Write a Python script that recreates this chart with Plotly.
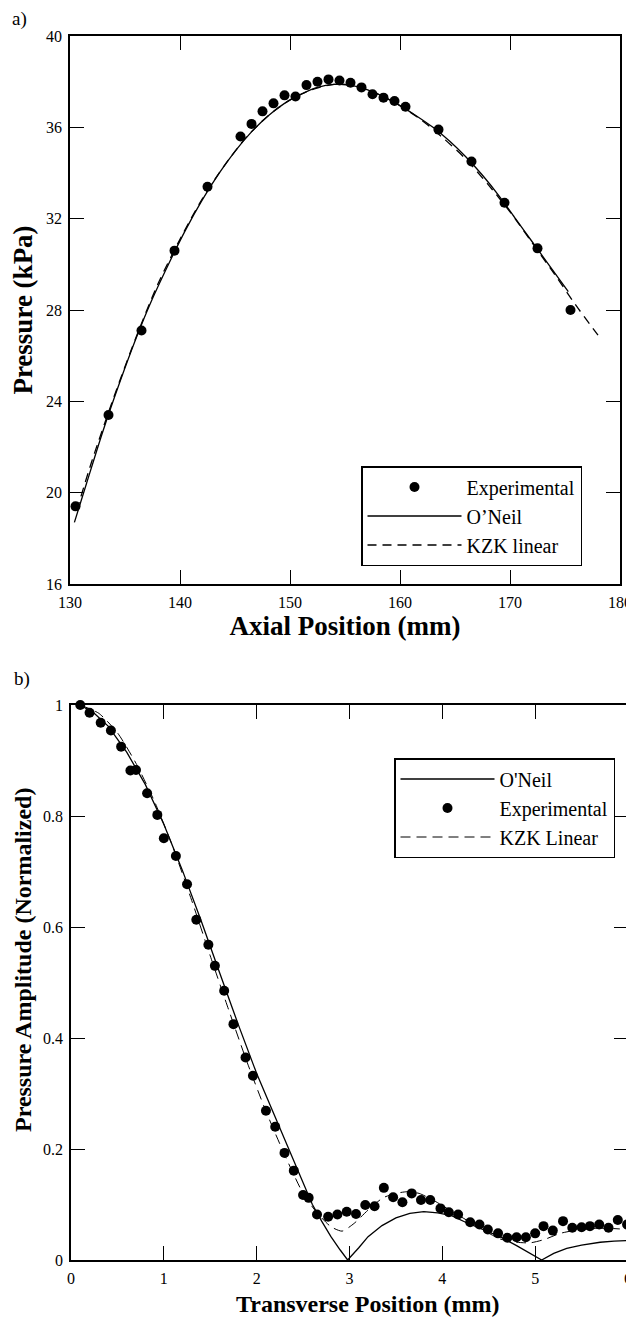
import plotly.graph_objects as go

# ---------------- Panel a) : axial profile ----------------
a_exp_x = [130.5, 133.5, 136.5, 139.5, 142.5, 145.5, 146.5, 147.5, 148.5, 149.5,
           150.5, 151.5, 152.5, 153.5, 154.5, 155.5, 156.5, 157.5, 158.5, 159.5,
           160.5, 163.5, 166.5, 169.5, 172.5, 175.5]
a_exp_y = [19.4, 23.4, 27.1, 30.6, 33.4, 35.6, 36.15, 36.7, 37.05, 37.4,
           37.35, 37.85, 38.0, 38.1, 38.05, 37.95, 37.75, 37.45, 37.3, 37.15,
           36.9, 35.9, 34.5, 32.7, 30.7, 28.0]

a_oneil_x = [130.4, 131.5, 133.0, 134.5, 136.0, 137.5, 139.0, 140.5, 142.0, 143.5,
             145.0, 146.5, 148.0, 149.5, 151.0, 152.5, 154.0, 155.5, 157.0, 158.5,
             160.0, 161.5, 163.0, 164.5, 166.0, 167.5, 169.0, 170.5, 172.0, 173.5, 175.3]
a_oneil_y = [18.7, 20.4, 22.7, 24.8, 26.75, 28.5, 30.05, 31.5, 32.8, 33.95,
             34.95, 35.8, 36.5, 37.05, 37.45, 37.75, 37.88, 37.85, 37.65, 37.35,
             36.95, 36.5, 36.0, 35.4, 34.7, 33.9, 33.0, 32.0, 31.0, 30.0, 28.8]

a_kzk_x = [130.6, 132.0, 134.0, 136.0, 138.0, 140.0, 142.0, 144.0, 146.0, 148.0,
           150.0, 152.0, 154.0, 156.0, 158.0, 160.0, 162.0, 164.0, 166.0, 168.0,
           170.0, 172.0, 174.0, 176.0, 178.0]
a_kzk_y = [19.2, 21.4, 24.2, 26.8, 29.15, 31.1, 32.85, 34.3, 35.55, 36.5,
           37.2, 37.65, 37.88, 37.8, 37.45, 36.95, 36.3, 35.5, 34.6, 33.5,
           32.3, 30.95, 29.6, 28.2, 26.9]

# ---------------- Panel b) : transverse profile ----------------
b_exp_x = [0.10, 0.20, 0.32, 0.43, 0.54, 0.64, 0.70, 0.82, 0.93, 1.00,
           1.13, 1.25, 1.35, 1.48, 1.55, 1.65, 1.75, 1.88, 1.96, 2.10,
           2.20, 2.30, 2.40, 2.50, 2.56, 2.65, 2.77, 2.87, 2.97, 3.07,
           3.17, 3.27, 3.37, 3.47, 3.57, 3.67, 3.77, 3.87, 3.98, 4.07,
           4.17, 4.30, 4.40, 4.49, 4.60, 4.70, 4.80, 4.90, 5.00, 5.09,
           5.19, 5.30, 5.40, 5.50, 5.59, 5.69, 5.79, 5.89, 5.99]
b_exp_y = [1.000, 0.986, 0.968, 0.954, 0.925, 0.882, 0.883, 0.841, 0.802, 0.760,
           0.728, 0.677, 0.613, 0.568, 0.530, 0.485, 0.425, 0.365, 0.332, 0.269,
           0.240, 0.193, 0.161, 0.117, 0.112, 0.082, 0.078, 0.082, 0.087, 0.083,
           0.099, 0.097, 0.130, 0.113, 0.104, 0.120, 0.108, 0.108, 0.093, 0.086,
           0.082, 0.068, 0.064, 0.055, 0.048, 0.040, 0.041, 0.041, 0.048, 0.061,
           0.053, 0.070, 0.058, 0.059, 0.061, 0.064, 0.058, 0.072, 0.064]

b_oneil_x = [0.10, 0.25, 0.40, 0.60, 0.80, 1.00, 1.20, 1.40, 1.60, 1.80,
             2.00, 2.20, 2.40, 2.60, 2.70, 2.80, 2.90, 2.98, 3.10, 3.20,
             3.35, 3.50, 3.65, 3.80, 3.95, 4.10, 4.25, 4.40, 4.62, 4.80,
             4.95, 5.07, 5.20, 5.34, 5.50, 5.70, 5.85, 6.00]
b_oneil_y = [1.000, 0.985, 0.962, 0.915, 0.857, 0.785, 0.702, 0.612, 0.518, 0.425,
             0.336, 0.258, 0.180, 0.100, 0.070, 0.042, 0.018, 0.000, 0.022, 0.042,
             0.062, 0.076, 0.084, 0.087, 0.085, 0.080, 0.068, 0.057, 0.042, 0.026,
             0.011, 0.000, 0.012, 0.021, 0.027, 0.032, 0.034, 0.035]

b_kzk_x = [0.10, 0.30, 0.50, 0.70, 0.90, 1.10, 1.30, 1.50, 1.70, 1.90,
           2.10, 2.30, 2.50, 2.65, 2.80, 2.92, 3.05, 3.20, 3.36, 3.50,
           3.62, 3.75, 3.90, 4.05, 4.26, 4.45, 4.62, 4.80, 4.95, 5.10,
           5.27, 5.45, 5.63, 5.80, 6.00]
b_kzk_y = [1.000, 0.985, 0.950, 0.895, 0.826, 0.743, 0.648, 0.548, 0.450, 0.355,
           0.268, 0.190, 0.120, 0.085, 0.060, 0.052, 0.066, 0.090, 0.112, 0.120,
           0.123, 0.120, 0.108, 0.093, 0.072, 0.053, 0.038, 0.032, 0.031, 0.037,
           0.048, 0.054, 0.057, 0.057, 0.055]

a_xticks = [130, 140, 150, 160, 170, 180]
a_yticks = [16, 20, 24, 28, 32, 36, 40]
b_xticks = [0, 1, 2, 3, 4, 5, 6]
b_yticks = [0, 0.2, 0.4, 0.6, 0.8, 1]

FONT = "Liberation Serif, Times New Roman, DejaVu Serif, serif"

# the page body has an 8px margin: size the figure so it fills the window
OFF = 8
W, H = 634 - OFF, 1318 - OFF


def PX(px):
    return (px - OFF) / W


def PY(py):
    return 1 - (py - OFF) / H


fig = go.Figure()

# panel a traces
fig.add_trace(go.Scatter(x=a_exp_x, y=a_exp_y, mode="markers", name="Experimental",
                         marker=dict(color="black", size=10), cliponaxis=False,
                         xaxis="x", yaxis="y", legend="legend"))
fig.add_trace(go.Scatter(x=a_oneil_x, y=a_oneil_y, mode="lines", name="O\u2019Neil",
                         line=dict(color="black", width=1.3, shape="spline", smoothing=0.8),
                         xaxis="x", yaxis="y", legend="legend"))
fig.add_trace(go.Scatter(x=a_kzk_x, y=a_kzk_y, mode="lines", name="KZK linear",
                         line=dict(color="black", width=1.3, dash="9px,6px", shape="spline", smoothing=0.8),
                         xaxis="x", yaxis="y", legend="legend"))

# panel b traces
fig.add_trace(go.Scatter(x=b_oneil_x, y=b_oneil_y, mode="lines", name="O'Neil",
                         line=dict(color="black", width=1.3),
                         xaxis="x2", yaxis="y2", legend="legend2"))
fig.add_trace(go.Scatter(x=b_exp_x, y=b_exp_y, mode="markers", name="Experimental",
                         marker=dict(color="black", size=10), cliponaxis=False,
                         xaxis="x2", yaxis="y2", legend="legend2"))
fig.add_trace(go.Scatter(x=b_kzk_x, y=b_kzk_y, mode="lines", name="KZK Linear",
                         line=dict(color="black", width=1, dash="10px,6px", shape="spline", smoothing=0.6),
                         xaxis="x2", yaxis="y2", legend="legend2"))

tickfont = dict(family=FONT, size=16, color="black")
titlefont = dict(family=FONT, size=27, color="black", weight="bold")
titlefont_b = dict(family=FONT, size=24, color="black", weight="bold")


def axis_style(**kw):
    d = dict(showline=True, linecolor="black", linewidth=1.5, mirror="ticks",
             ticks="inside", ticklen=14, tickwidth=1.2, tickcolor="black",
             showgrid=False, zeroline=False, tickfont=tickfont, automargin=False,
             ticklabelstandoff=3)
    d.update(kw)
    return d


fig.update_layout(
    template="none",
    width=W, height=H,
    margin=dict(l=0, r=0, t=0, b=0, pad=0),
    paper_bgcolor="white", plot_bgcolor="white",
    font=dict(family=FONT, color="black"),
    xaxis=axis_style(domain=[PX(70), PX(620)], anchor="y", range=[130, 180],
                     tickvals=a_xticks,
                     title=dict(text="Axial Position (mm)", font=titlefont, standoff=4)),
    yaxis=axis_style(domain=[PY(584), PY(36)], anchor="x", range=[16, 40],
                     tickvals=a_yticks,
                     title=dict(text="Pressure (kPa)", font=titlefont, standoff=11)),
    xaxis2=axis_style(domain=[PX(71), PX(628)], anchor="y2", range=[0, 6],
                      tickvals=b_xticks),
    yaxis2=axis_style(domain=[PY(1260), PY(705)], anchor="x2", range=[0, 1],
                      tickvals=b_yticks),
    legend=dict(x=PX(361), y=PY(466), xanchor="left", yanchor="top",
                bordercolor="black", borderwidth=1.5, bgcolor="white",
                font=dict(family=FONT, size=20, color="black"),
                itemwidth=94, tracegroupgap=0),
    legend2=dict(x=PX(394), y=PY(758), xanchor="left", yanchor="top",
                 bordercolor="black", borderwidth=1.5, bgcolor="white",
                 font=dict(family=FONT, size=20, color="black"),
                 itemwidth=94, tracegroupgap=0),
    showlegend=True,
    annotations=[
        dict(text="a)", x=PX(10), y=PY(19), xref="paper", yref="paper",
             xanchor="left", yanchor="middle", showarrow=False,
             font=dict(family=FONT, size=19, color="black")),
        dict(text="b)", x=PX(12), y=PY(679), xref="paper", yref="paper",
             xanchor="left", yanchor="middle", showarrow=False,
             font=dict(family=FONT, size=19, color="black")),
        # axis titles of panel b
        dict(text="Transverse Position (mm)", x=PX(368), y=PY(1304),
             xref="paper", yref="paper", xanchor="center", yanchor="middle",
             showarrow=False, font=titlefont_b),
        dict(text="Pressure Amplitude (Normalized)", x=PX(23), y=PY(960),
             xref="paper", yref="paper", xanchor="center", yanchor="middle",
             textangle=-90, showarrow=False, font=titlefont_b),
    ],
)

fig.write_html("out.html")
